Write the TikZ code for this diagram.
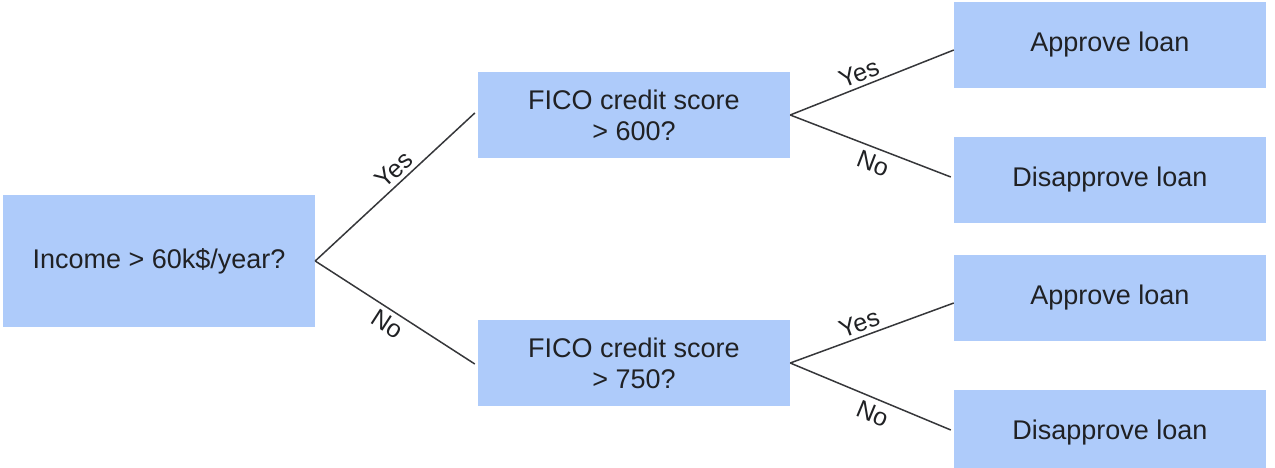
\documentclass[tikz,border=0pt]{standalone}
\usepackage{fontspec}
\setmainfont{Liberation Sans}
\definecolor{boxblue}{HTML}{AECBFA}
\definecolor{inkgray}{HTML}{202124}
\tikzset{
  qbox/.style={rectangle,fill=boxblue,minimum width=312pt,minimum height=86pt,
    inner sep=0pt,align=center,text=inkgray,
    font=\fontsize{27}{31}\selectfont},
  branch/.style={draw=inkgray!90,line width=1.5pt},
  blabel/.style={sloped,font=\fontsize{25}{25}\selectfont,text=inkgray,inner sep=4pt}
}

\begin{document}
\begin{tikzpicture}[x=1pt,y=-1pt]
\useasboundingbox (0,0) rectangle (1275,468);
% ---- decision nodes ----
\node[qbox,minimum height=132pt] (income) at (159,261) {Income > 60k\$/year?};
\node[qbox] (fico600) at (634,115) {FICO credit score\\> 600?};
\node[qbox] (fico750) at (634,363) {FICO credit score\\> 750?};
% ---- leaves ----
\foreach \n/\y/\t in {okA/45/Approve loan, noA/180/Disapprove loan,
                      okB/298/Approve loan, noB/433/Disapprove loan}
  \node[qbox] (\n) at (1110,\y) {\t};
% ---- branches ----
\draw[branch] (income.east) -- ([xshift=-3pt,yshift=2pt]fico600.west)
  node[blabel,above,pos=0.55] {Yes};
\draw[branch] (income.east) -- ([xshift=-3pt,yshift=-1pt]fico750.west)
  node[blabel,below,pos=0.5] {No};
\foreach \q/\a/\b in {fico600/okA/noA, fico750/okB/noB}{
  \draw[branch] (\q.east) -- ([yshift=-5pt]\a.west)
    node[blabel,above,pos=0.45] {Yes};
  \draw[branch] (\q.east) -- ([xshift=-3pt,yshift=3pt]\b.west)
    node[blabel,below,pos=0.55,inner sep=6pt] {No};
}
\end{tikzpicture}
\end{document}
